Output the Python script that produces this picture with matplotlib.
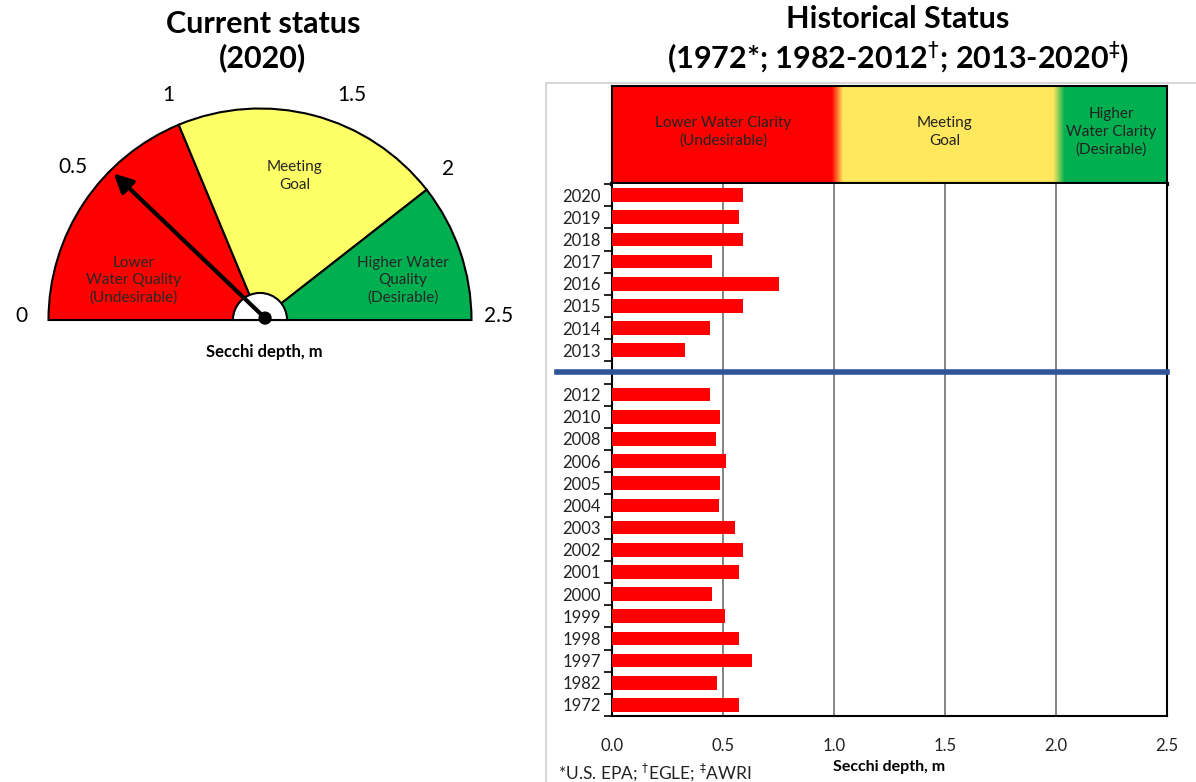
import numpy as np
import matplotlib
matplotlib.use("Agg")
from matplotlib import pyplot as plt
from matplotlib.patches import Wedge, Rectangle, Circle

plt.rcParams["font.family"] = ["Lato", "DejaVu Sans"]

# ---- data ----
current_year = 2020
current_value = 0.59

# gauge scale (value -> needle angle in degrees, gauge is not linear)
gauge_ticks = [0, 0.5, 1, 1.5, 2, 2.5]
gauge_angles = [180, 141.5, 112.6, 67.5, 38, 0]
zone_bounds = [0, 1, 2, 2.5]
zone_names = ["Lower\nWater Quality\n(Undesirable)", "Meeting\nGoal",
              "Higher Water\nQuality\n(Desirable)"]

recent_years = ["2020", "2019", "2018", "2017", "2016", "2015", "2014", "2013"]
recent_vals = [0.59, 0.57, 0.59, 0.45, 0.75, 0.59, 0.44, 0.33]
old_years = ["2012", "2010", "2008", "2006", "2005", "2004", "2003", "2002",
             "2001", "2000", "1999", "1998", "1997", "1982", "1972"]
old_vals = [0.44, 0.485, 0.47, 0.515, 0.485, 0.48, 0.555, 0.59,
            0.57, 0.45, 0.51, 0.57, 0.63, 0.475, 0.57]
header_names = ["Lower Water Clarity\n(Undesirable)", "Meeting\nGoal",
                "Higher\nWater Clarity\n(Desirable)"]

red = "#ff0000"
yellow_g = "#ffff66"
yellow_h = "#ffe85e"
green = "#00b050"
txt = "#262626"

fig = plt.figure(figsize=(11.96, 7.82), dpi=100)
W, H = 1196, 782

# ---- titles ----
fig.text(263 / W, 1 - 41 / H, f"Current status\n({current_year})", ha="center",
         va="center", fontsize=22, fontweight="bold", linespacing=1.25)
fig.text(898 / W, 1 - 41 / H,
         "Historical Status\n(1972*; 1982-2012$^{\\dagger}$; 2013-2020$^{\\ddagger}$)",
         ha="center", va="center", fontsize=22, fontweight="bold", linespacing=1.25)

# ---- gauge ----
R = 211.5
cx, cy = 260, 320
gx0, gy0, gx1, gy1 = 0, 80, 526, 380
gax = fig.add_axes([gx0 / W, 1 - gy1 / H, (gx1 - gx0) / W, (gy1 - gy0) / H])
gax.set_xlim((gx0 - cx) / R, (gx1 - cx) / R)
gax.set_ylim((cy - gy1) / R, (cy - gy0) / R)
gax.axis("off")


def ang(v):
    return np.interp(v, gauge_ticks, gauge_angles)


for (lo, hi), col in zip(zip(zone_bounds[:-1], zone_bounds[1:]), [red, yellow_g, green]):
    gax.add_patch(Wedge((0, 0), 1, ang(hi), ang(lo), facecolor=col,
                        edgecolor="black", lw=1.5))
gax.add_patch(Wedge((0, 0), 0.128, 0, 180, facecolor="white", edgecolor="black", lw=1.5))

for v in gauge_ticks:
    a = np.deg2rad(ang(v))
    r = 1.13
    gax.text(r * np.cos(a), r * np.sin(a) + 0.02, f"{v:g}", ha="center", va="center",
             fontsize=15)

zone_pos = [(-0.596, 0.189), (0.165, 0.681), (0.676, 0.189)]
for (x, y), name in zip(zone_pos, zone_names):
    gax.text(x, y, name, ha="center", va="center", fontsize=11, color=txt,
             linespacing=1.3)

pivot = (0.024, 0.009)
a = np.deg2rad(ang(current_value))
gax.annotate("", xy=(pivot[0] + 0.99 * np.cos(a), pivot[1] + 0.99 * np.sin(a)),
             xytext=pivot,
             arrowprops=dict(arrowstyle="-|>", lw=3, color="black", mutation_scale=28,
                             shrinkA=0, shrinkB=0))
gax.add_patch(Circle(pivot, 0.028, color="black", zorder=5))
gax.text(0.019, -0.151, "Secchi depth, m", ha="center", va="center", fontsize=12,
         fontweight="bold")

# ---- right panel frame ----
fig.patches.append(Rectangle((546 / W, -0.01), 0.6, 1 - 83 / H + 0.01,
                             transform=fig.transFigure, fill=False,
                             edgecolor="#d0d0d0", lw=1.2))

# ---- header band ----
px0, px1, top, mid, bot = 612, 1167, 86, 184, 716
hax = fig.add_axes([px0 / W, 1 - mid / H, (px1 - px0) / W, (mid - top) / H])
xs = np.linspace(0, 2.5, 600)
rgb = [matplotlib.colors.to_rgb(c) for c in [red, yellow_h, green]]
cols = np.zeros((1, len(xs), 3))
for ch in range(3):
    cols[0, :, ch] = np.interp(xs, [0, 0.99, 1.04, 1.99, 2.04, 2.5],
                               [rgb[0][ch], rgb[0][ch], rgb[1][ch], rgb[1][ch],
                                rgb[2][ch], rgb[2][ch]])
hax.imshow(cols, extent=[0, 2.5, 0, 1], aspect="auto")
hax.set_xlim(0, 2.5)
hax.set_ylim(0, 1)
hax.set_xticks([])
hax.set_yticks([])
for s in hax.spines.values():
    s.set_linewidth(1.5)
hax.spines["bottom"].set_linewidth(3)
for (lo, hi), name in zip(zip(zone_bounds[:-1], zone_bounds[1:]), header_names):
    hax.text((lo + hi) / 2, 0.53, name, ha="center", va="center", fontsize=11,
             color="#222222", linespacing=1.35)

# ---- bar chart ----
ax = fig.add_axes([px0 / W, 1 - bot / H, (px1 - px0) / W, (bot - mid) / H])
labels = recent_years + [""] + old_years
vals = recent_vals + [np.nan] + old_vals
pos = np.arange(len(labels))
ax.barh(pos, vals, height=0.62, color=red, zorder=3)
ax.set_ylim(len(labels) - 0.5, -0.5)
ax.set_xlim(0, 2.5)
ax.set_yticks(np.arange(len(labels) + 1) - 0.5)
ax.set_yticklabels([])
ax.set_yticks(pos, minor=True)
ax.set_yticklabels(labels, minor=True, fontsize=12, color="#222222")
ax.tick_params(axis="y", which="major", length=6, width=1.2, direction="out")
ax.tick_params(axis="y", which="minor", length=0, pad=8)
ax.set_xticks([0, 0.5, 1, 1.5, 2, 2.5])
ax.set_xticklabels([f"{v:.1f}" for v in [0, 0.5, 1, 1.5, 2, 2.5]], fontsize=12,
                   color="#222222")
ax.tick_params(axis="x", length=0, pad=16)
ax.set_xlabel("Secchi depth, m", fontsize=11.5, fontweight="bold", labelpad=4)
for g in [0.5, 1, 1.5, 2]:
    ax.axvline(g, color="#707070", lw=1.2, zorder=1)
for s in ["left", "bottom", "right"]:
    ax.spines[s].set_linewidth(1.5)
ax.spines["top"].set_visible(False)
ax.axhline(len(recent_years), xmin=(557 - px0) / (px1 - px0), xmax=1, color="#2f5597",
           lw=4, clip_on=False, zorder=4)

fig.text(558 / W, 1 - 772 / H, "*U.S. EPA; $^{\\dagger}$EGLE; $^{\\ddagger}$AWRI",
         ha="left", va="center", fontsize=12.5, color="#222222")

fig.savefig("out.png", dpi=100)
